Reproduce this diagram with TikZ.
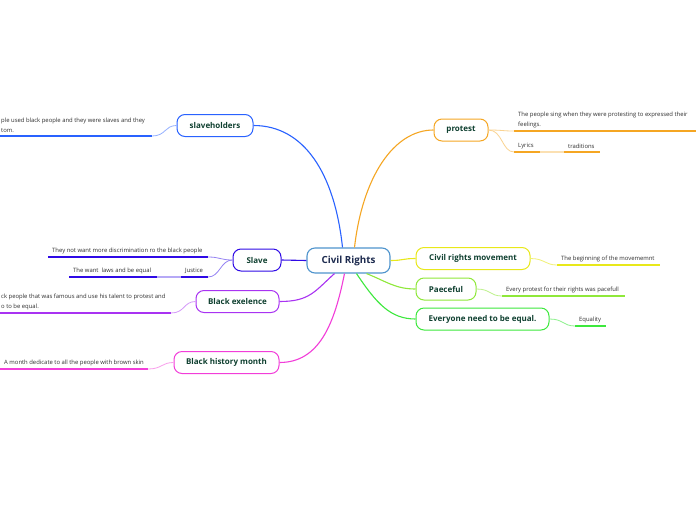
\documentclass[tikz,border=0pt]{standalone}
\usepackage{fontspec}
\setmainfont{Open Sans}
\usetikzlibrary{positioning,calc}

\definecolor{cblue}{HTML}{2962FF}
\definecolor{corange}{HTML}{F5A623}
\definecolor{cindigo}{HTML}{2F0AE6}
\definecolor{cpurple}{HTML}{A933F2}
\definecolor{cmagenta}{HTML}{F23DD9}
\definecolor{cyellow}{HTML}{E8E81A}
\definecolor{clime}{HTML}{8FE83A}
\definecolor{cgreen}{HTML}{3DE83D}
\definecolor{ccentral}{HTML}{4F94CD}
\definecolor{centraltext}{HTML}{1D2B4F}
\definecolor{topictext}{HTML}{0F4030}
\definecolor{leaftext}{HTML}{303030}

\begin{document}
\begin{tikzpicture}[x=1pt, y=-1pt,
    topic/.style={draw, line width=1pt, rounded corners=8pt, fill=white, minimum height=22pt,
                  inner xsep=6pt, font=\bfseries\fontsize{8}{9}\selectfont, text=topictext},
    central/.style={topic, draw=ccentral, line width=1.1pt, minimum height=25pt,
                    font=\bfseries\fontsize{9.8}{11}\selectfont, text=centraltext},
    leaf/.style={anchor=south west, inner xsep=4pt, inner ysep=3pt, align=left,
                 font=\fontsize{5.9}{9.8}\selectfont, text=leaftext},
    branch/.style={line width=1.1pt},
    ul/.style={line width=1.6pt},
    twig/.style={line width=0.8pt}
]

\fill[white] (0,0) rectangle (696,520);
\useasboundingbox (0,0) rectangle (696,520);

% Main topics
\node[central, minimum width=83pt] (civil) at (348.5,260.5) {Civil Rights};
\node[topic, draw=cblue, minimum width=76pt] (holders) at (215,125.5) {slaveholders};
\node[topic, draw=corange, minimum width=54pt] (protest) at (461,130) {protest};
\node[topic, draw=cindigo, minimum width=48pt] (slave) at (257,260) {Slave};
\node[topic, draw=cpurple, minimum width=83pt] (excel) at (237.5,301.5) {Black exelence};
\node[topic, draw=cmagenta, minimum width=105pt] (month) at (226.5,362.5) {Black history month};
\node[topic, draw=cyellow, minimum width=114pt] (movement) at (473,258.5) {Civil rights movement};
\node[topic, draw=clime, minimum width=60pt] (peace) at (446,289) {Paeceful};
\node[topic, draw=cgreen, minimum width=133pt] (equal) at (482.5,319) {Everyone need to be equal.};

% Branches from the centre
\draw[branch, cblue] ($(civil.north)+(-6,0)$) .. controls +(-8,-75) and +(50,0) .. (holders.east);
\draw[branch, corange] ($(civil.north)+(6,0)$) .. controls +(8,-70) and +(-40,0) .. (protest.west);
\draw[branch, cindigo] (civil.west) -- (slave.east);
\draw[branch, cpurple] ($(civil.south)+(-14,0)$) .. controls +(-20,18) and +(30,0) .. (excel.east);
\draw[branch, cmagenta] ($(civil.south)+(-4,0)$) .. controls +(-10,50) and +(40,0) .. (month.east);
\draw[branch, cyellow] (civil.east) .. controls +(13,0) and +(-13,0) .. (movement.west);
\draw[branch, clime] ($(civil.south)+(18,0)$) .. controls +(20,8) and +(-20,0) .. (peace.west);
\draw[branch, cgreen] ($(civil.south)+(8,0)$) .. controls +(20,30) and +(-25,0) .. (equal.west);

% slaveholders
\node[leaf] (cruel) at (-3,136) {ple used black people and they were slaves and they\\tom.};
\draw[ul, cblue] (cruel.south west) -- ++(155,0) coordinate (cruel-e);
\draw[twig, cblue!50] (cruel-e) .. controls +(14,0) and +(-12,0) .. (holders.west);

% protest
\node[leaf] (sing) at (514,131) {The people sing when they were protesting to expressed their\\feelings.};
\draw[ul, corange] (sing.south west) -- ++(190,0);
\draw[twig, corange!50] (protest.east) .. controls +(14,0) and +(-12,0) .. (sing.south west);
\node[leaf] (lyrics) at (514,152) {Lyrics};
\draw[ul, corange] (lyrics.south west) -- ++(26,0) coordinate (lyrics-e);
\draw[twig, corange!50] (protest.east) .. controls +(14,0) and +(-12,0) .. (lyrics.south west);
\node[leaf] (trad) at (564,152) {traditions};
\draw[ul, corange] (trad.south west) -- ++(36,0);
\draw[ul, corange!35] (lyrics-e) -- (trad.south west);

% Slave
\node[leaf] (discr) at (48,257) {They not want more discrimination ro the black people};
\draw[ul, cindigo] (discr.south west) -- ++(160,0) coordinate (discr-e);
\draw[twig, cindigo!50] (discr-e) .. controls +(12,0) and +(-12,0) .. (slave.west);
\node[leaf] (justice) at (181,277) {Justice};
\draw[ul, cindigo] (justice.south west) -- ++(27,0) coordinate (justice-e);
\draw[twig, cindigo!50] (justice-e) .. controls +(12,0) and +(-12,0) .. (slave.west);
\node[leaf] (laws) at (69,277) {The want~ laws and be equal};
\draw[ul, cindigo] (laws.south west) -- ++(88,0) coordinate (laws-e);
\draw[ul, cindigo!35] (laws-e) -- (justice.south west);

% Black exelence
\node[leaf] (talent) at (-3,313) {ck people that was famous and use his talent to protest and\\o to be equal.};
\draw[ul, cpurple] (talent.south west) -- ++(174,0) coordinate (talent-e);
\draw[twig, cpurple!50] (talent-e) .. controls +(14,0) and +(-12,0) .. (excel.west);

% Black history month
\node[leaf] (skin) at (0,369) {A month dedicate to all the people with brown skin};
\draw[ul, cmagenta] (skin.south west) -- ++(148,0) coordinate (skin-e);
\draw[twig, cmagenta!50] (skin-e) .. controls +(14,0) and +(-12,0) .. (month.west);

% Civil rights movement
\node[leaf] (begin) at (557,265) {The beginning of the movememnt};
\draw[ul, cyellow] (begin.south west) -- ++(103,0);
\draw[twig, cyellow!60] (movement.east) .. controls +(14,0) and +(-12,0) .. (begin.south west);

% Paeceful
\node[leaf] (pacef) at (502,296) {Every protest for their rights was pacefull};
\draw[ul, clime] (pacef.south west) -- ++(123,0);
\draw[twig, clime!60] (peace.east) .. controls +(14,0) and +(-12,0) .. (pacef.south west);

% Everyone need to be equal
\node[leaf] (equality) at (575,326) {Equality};
\draw[ul, cgreen] (equality.south west) -- ++(31,0);
\draw[twig, cgreen!60] (equal.east) .. controls +(14,0) and +(-12,0) .. (equality.south west);

\end{tikzpicture}
\end{document}
